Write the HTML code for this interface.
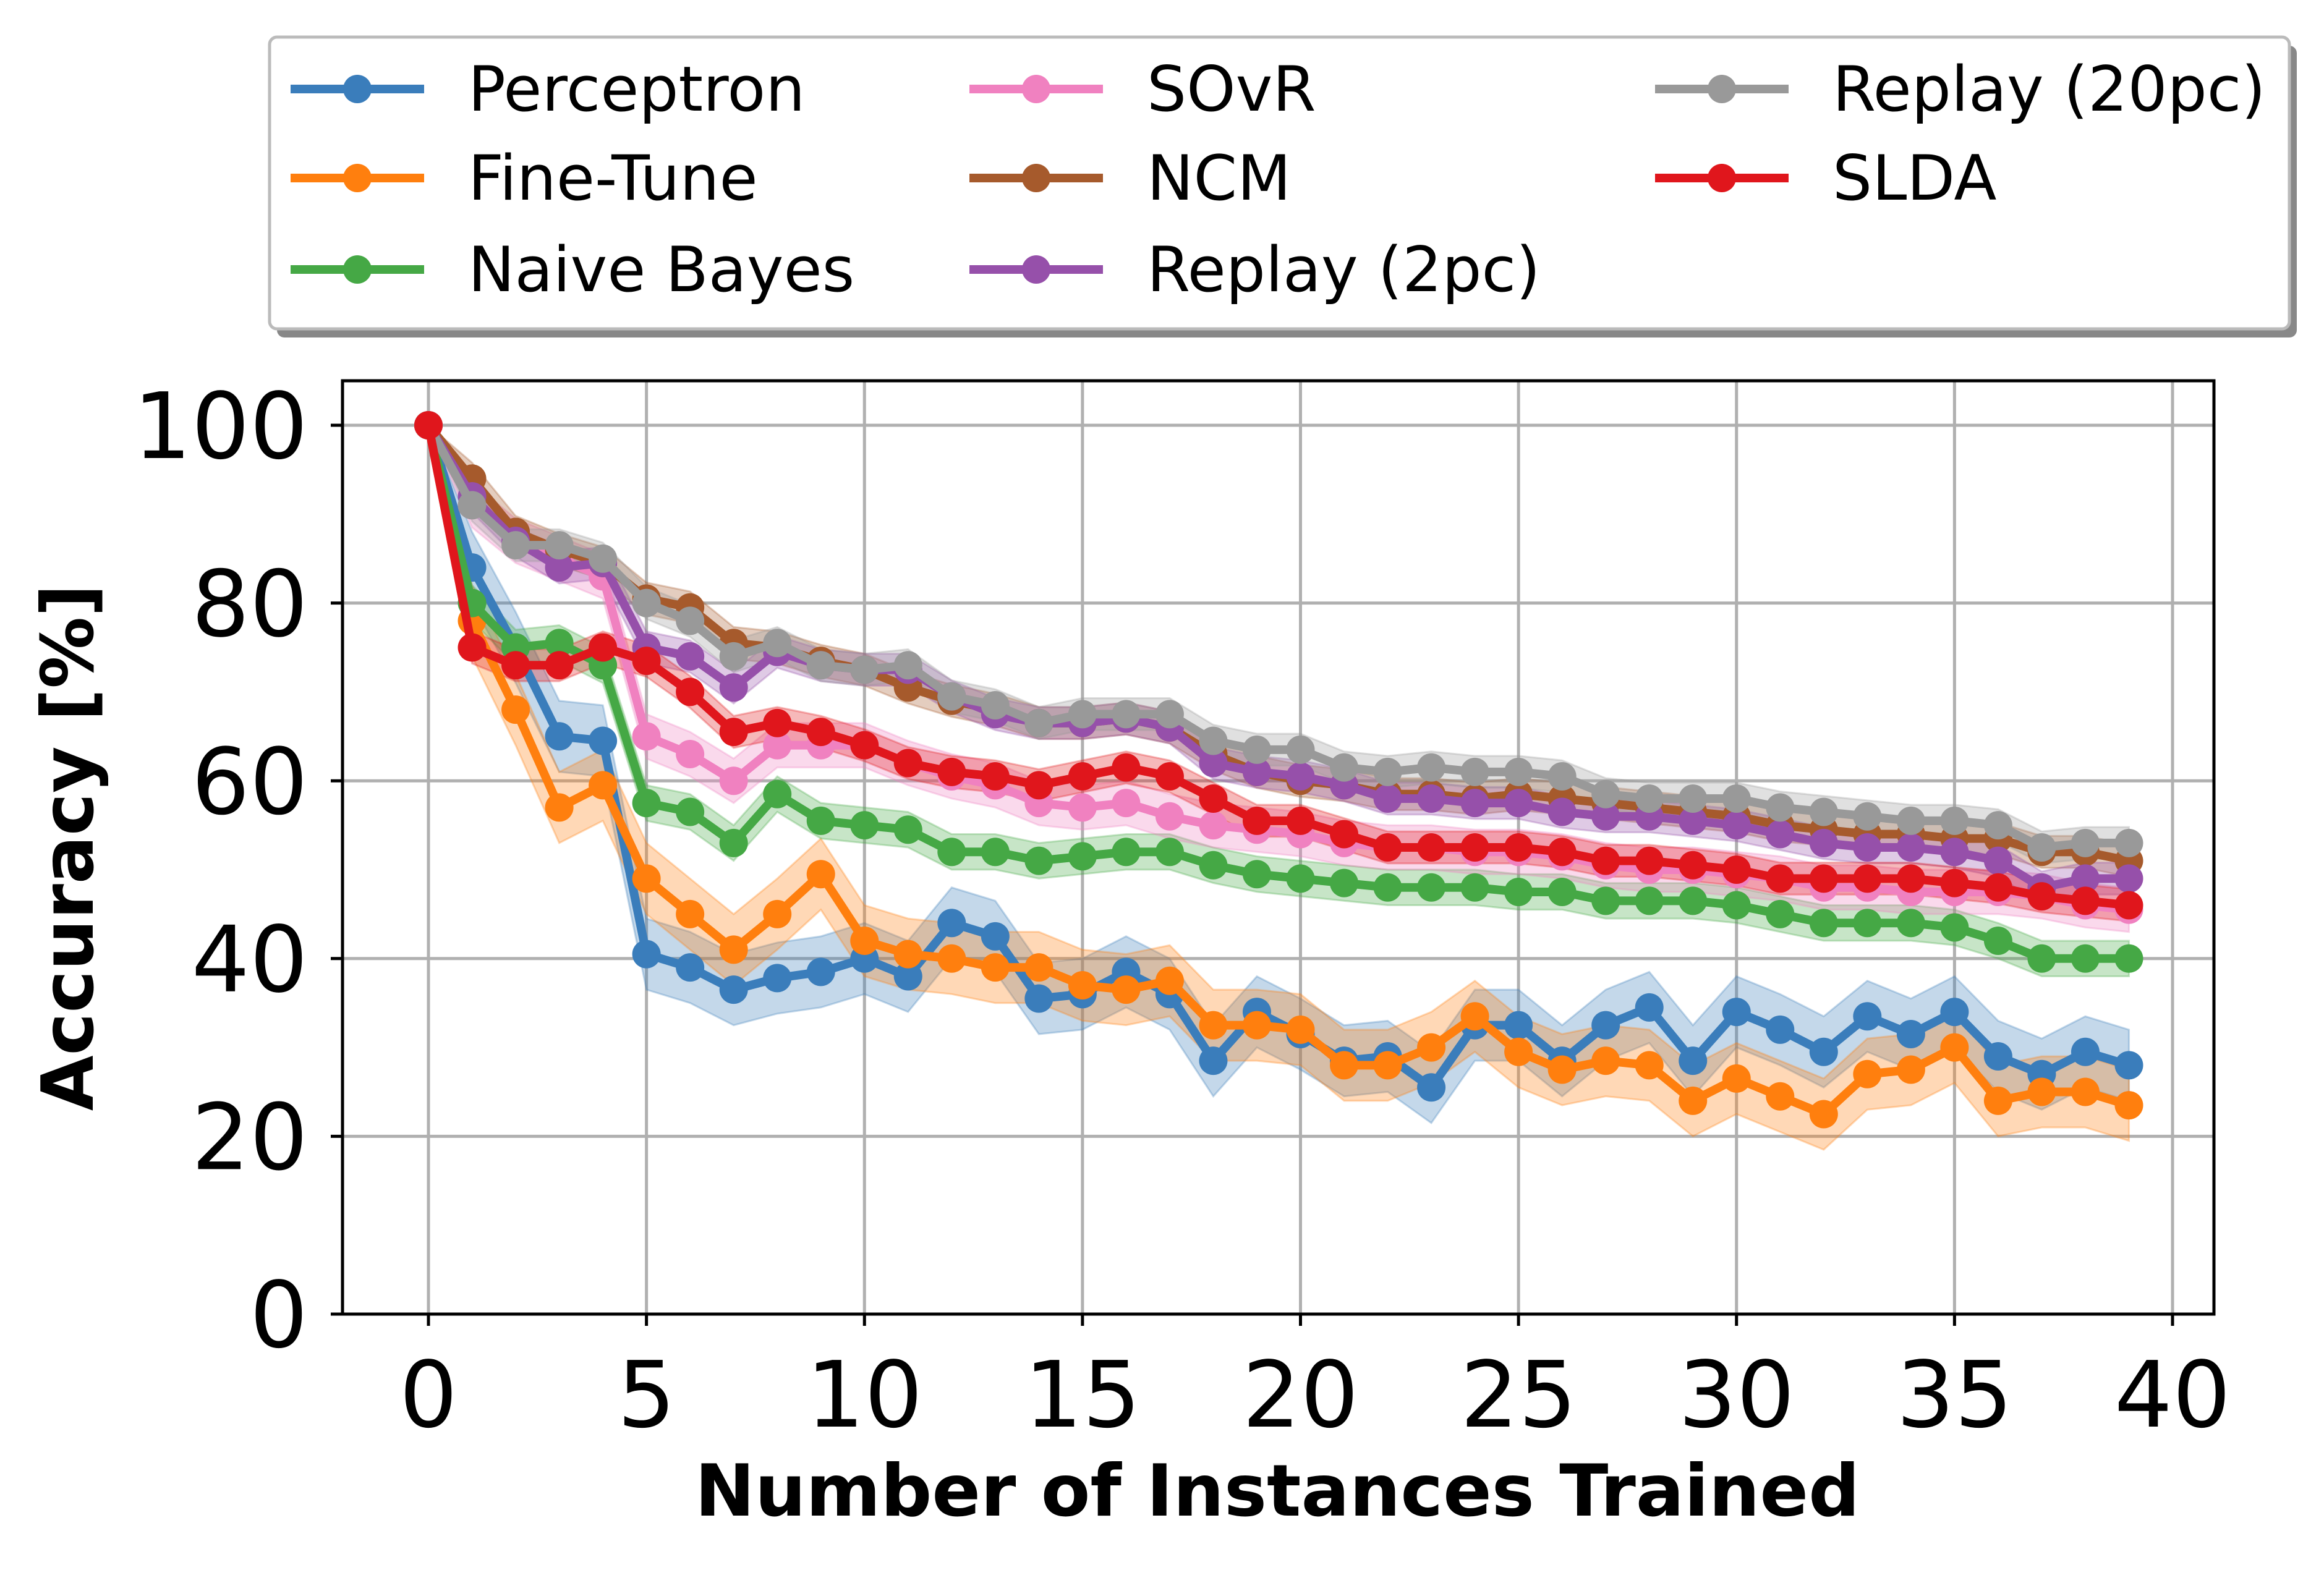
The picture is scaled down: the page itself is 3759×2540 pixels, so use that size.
<!DOCTYPE html>
<html><head><meta charset="utf-8"><style>
html,body{margin:0;padding:0;background:#fff;}
svg{display:block;font-family:"DejaVu Sans","Liberation Sans",sans-serif;}
</style></head><body>
<svg id="chart" width="3759" height="2540" viewBox="0 0 3759 2540" xmlns="http://www.w3.org/2000/svg">
<rect width="3759" height="2540" fill="#fff"/>
<g id="grid"></g>
<g id="bands"></g>
<g id="lines"></g>
<rect x="554" y="616" width="3027" height="1510" fill="none" stroke="#000" stroke-width="5"/>
<g id="axes"></g>
<text x="2066" y="2452" font-size="116" font-weight="bold" text-anchor="middle">Number of Instances Trained</text>
<text transform="translate(150,1371) rotate(-90)" font-size="116" font-weight="bold" text-anchor="middle">Accuracy [%]</text>
<g id="legend"></g>
</svg>
<script>
const xTicks=[0,5,10,15,20,25,30,35,40];
const yTicks=[0,20,40,60,80,100];
const seriesNames=["Perceptron","Fine-Tune","Naive Bayes","SOvR","NCM","Replay (2pc)","Replay (20pc)","SLDA"];
const seriesColors=["#3a7dbb","#ff7f0e","#45a845","#f081c0","#a65a2c","#9650aa","#999999","#e0161c"];
const perceptron=[100,84,75,65,64.5,40.5,39,36.5,37.8,38.5,40,38,44,42.5,35.5,36,38.5,36,28.5,34,31.5,28.5,29,25.5,32.5,32.5,28.5,32.5,34.5,28.5,34,32,29.5,33.5,31.5,34,29,27,29.5,28];
const fineTune=[100,78,68,57,59.5,49,45,41,45,49.5,42,40.5,40,39,39,37,36.5,37.5,32.5,32.5,32,28,28,30,33.5,29.5,27.5,28.5,28,24,26.5,24.5,22.5,27,27.5,30,24,25,25,23.5];
const naiveBayes=[100,80,75,75.5,73,57.5,56.5,53,58.5,55.5,55,54.5,52,52,51,51.5,52,52,50.5,49.5,49,48.5,48,48,48,47.5,47.5,46.5,46.5,46.5,46,45,44,44,44,43.5,42,40,40,40];
const sovr=[100,91,87,85,83,65,63,60,64,64,64,62,60.5,59.5,57.5,57,57.5,56,55,54.5,54,53,52.5,52.5,52,52,51.5,50.5,50,50,49.5,49,48,48,47.5,47.5,47.5,47,46,45.5];
const ncm=[100,94,88,86,84.5,80.5,79.5,75.5,75,73.5,72.5,70.5,69,68,66.5,66.5,67,66,63,61,60,59.5,58.5,58.5,58,58.5,58,57.5,57,56.5,56,55,54.5,54,54,53.5,53.5,52,52,51];
const replay2=[100,92,87,84,84.5,75,74,70.5,74.5,73,72.5,72.5,69.5,67.5,66.5,66.5,67,66,62,61,60.5,59.5,58,58,57.5,57.5,56.5,56,56,55.5,55,54,53,52.5,52.5,52,51,48,49,49];
const replay20=[100,91,86.5,86.5,85,80,78,74,75.5,73,72.5,73,69.5,68.5,66.5,67.5,67.5,67.5,64.5,63.5,63.5,61.5,61,61.5,61,61,60.5,58.5,58,58,58,57,56.5,56,55.5,55.5,55,52.5,53,53];
const slda=[100,75,73,73,75,73.5,70,65.5,66.5,65.5,64,62,61,60.5,59.5,60.5,61.5,60.5,58,55.5,55.5,54,52.5,52.5,52.5,52.5,52,51,51,50.5,50,49,49,49,49,48.5,48,47,46.5,46];
const bandWidths=[4,4,2,2.5,1.8,1.8,1.8,1.8];
const allSeries=[perceptron,fineTune,naiveBayes,sovr,ncm,replay2,replay20,slda];

const NS="http://www.w3.org/2000/svg";
const X0=554,X1=3581,Y0=616,Y1=2126;
function xs(v){return 693+v*(3514-693)/40;}
function ys(v){return 2126-v*(2126-688)/100;}
function mk(tag,attrs,parent){const e=document.createElementNS(NS,tag);for(const k in attrs)e.setAttribute(k,attrs[k]);parent.appendChild(e);return e;}
const grid=document.getElementById('grid'),axes=document.getElementById('axes');
xTicks.forEach(t=>{
  const g=mk('line',{x1:xs(t),x2:xs(t),y1:Y0,y2:Y1,stroke:'#b0b0b0','stroke-width':5},grid);
  
  
  const tk=mk('line',{x1:xs(t),x2:xs(t),y1:Y1,y2:Y1+19,stroke:'#000','stroke-width':5},axes);
  
  
  const tx=mk('text',{x:xs(t),y:2308,'font-size':148,'text-anchor':'middle'},axes);
  tx.textContent=t;
  
  
});
yTicks.forEach(t=>{
  const g=mk('line',{x1:X0,x2:X1,y1:ys(t),y2:ys(t),stroke:'#b0b0b0','stroke-width':5},grid);
  
  
  const tk=mk('line',{x1:X0-19,x2:X0,y1:ys(t),y2:ys(t),stroke:'#000','stroke-width':5},axes);
  
  
  const tx=mk('text',{x:X0-56,y:ys(t)+53,'font-size':148,'text-anchor':'end'},axes);
  tx.textContent=t;
  
  
});
const bands=document.getElementById('bands'),lines=document.getElementById('lines');
allSeries.forEach((s,i)=>{
  const c=seriesColors[i],w=bandWidths[i];
  let up=[],dn=[];
  s.forEach((v,j)=>{const ww=j==0?0:w;up.push(xs(j)+','+ys(v+ww));dn.unshift(xs(j)+','+ys(v-ww));});
  const b=mk('polygon',{points:up.concat(dn).join(' '),fill:c,'fill-opacity':0.3,stroke:c,'stroke-opacity':0.3,'stroke-width':3},bands);
  
  
});
allSeries.forEach((s,i)=>{
  const c=seriesColors[i];
  const g=mk('g',{},lines);
  
  
  mk('polyline',{points:s.map((v,j)=>xs(j)+','+ys(v)).join(' '),fill:'none',stroke:c,'stroke-width':14,'stroke-linejoin':'round'},g);
  s.forEach((v,j)=>{
    const p=mk('circle',{cx:xs(j),cy:ys(v),r:23,fill:c},g);
    
    
  });
});
const lg=document.getElementById('legend');
mk('rect',{x:448,y:74,width:3267,height:472,rx:12,fill:'#888'},lg);
const box=mk('rect',{x:436,y:60,width:3267,height:472,rx:12,fill:'#fff',stroke:'#bbb','stroke-width':5},lg);


const colX=[470,1568,2677],rowY=[144,288,436];
seriesNames.forEach((n,i)=>{
  const col=Math.floor(i/3),row=i%3;
  const x=colX[col],y=rowY[row];
  const e=mk('g',{},lg);
  
  
  mk('line',{x1:x,x2:x+216,y1:y,y2:y,stroke:seriesColors[i],'stroke-width':14},e);
  mk('circle',{cx:x+108,cy:y,r:23,fill:seriesColors[i]},e);
  const t=mk('text',{x:x+287,y:y+35,'font-size':101},e);
  t.textContent=n;
});
</script>
</body></html>
